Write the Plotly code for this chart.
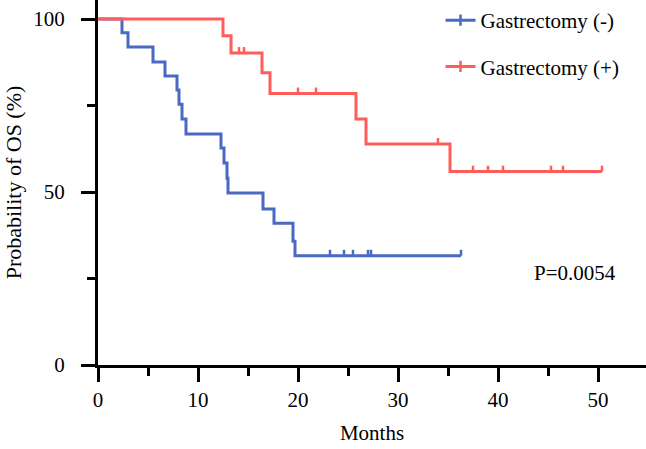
import plotly.graph_objects as go

# ---- data (months, survival %) ----
neg_times = [0, 2.4, 3.0, 5.5, 6.7, 7.9, 8.1, 8.4, 8.8, 12.3, 12.6, 12.9, 13.0, 16.5, 17.6, 19.5, 19.7, 36.3]
neg_surv = [100, 96.0, 91.9, 87.6, 83.5, 79.5, 75.4, 71.1, 66.8, 62.7, 58.4, 54.0, 49.7, 45.1, 41.0, 35.8, 31.6, 31.6]
neg_cens_t = [23.2, 24.6, 25.5, 27.0, 27.3, 36.3]
neg_cens_s = [31.6, 31.6, 31.6, 31.6, 31.6, 31.6]

pos_times = [0, 12.5, 13.3, 16.4, 17.2, 25.8, 26.8, 35.2, 50.4]
pos_surv = [100, 95.2, 90.2, 84.5, 78.5, 71.1, 63.9, 55.9, 55.9]
pos_cens_t = [14.1, 14.6, 20.0, 21.8, 34.0, 37.5, 39.0, 40.5, 45.3, 46.5, 50.4]
pos_cens_s = [90.2, 90.2, 78.5, 78.5, 63.9, 55.9, 55.9, 55.9, 55.9, 55.9, 55.9]

labels = ["Gastrectomy (-)", "Gastrectomy (+)"]
x_ticks = [0, 10, 20, 30, 40, 50]
y_ticks = [0, 50, 100]

BLUE = "#4A69C2"
RED = "#FF5C5C"
FONT = "'Liberation Serif', 'Times New Roman', Times, serif"
TICK_H = 1.7  # censor tick height (% units)

fig = go.Figure()

for t, s, ct, cs, col, name in [
    (neg_times, neg_surv, neg_cens_t, neg_cens_s, BLUE, labels[0]),
    (pos_times, pos_surv, pos_cens_t, pos_cens_s, RED, labels[1]),
]:
    fig.add_trace(go.Scatter(x=t, y=s, mode="lines", line=dict(color=col, width=3, shape="hv"),
                             showlegend=False, hoverinfo="skip"))
    fig.add_trace(go.Scatter(x=ct, y=cs, mode="markers", marker=dict(size=0.1, color=col, opacity=0),
                             error_y=dict(type="constant", value=TICK_H, valueminus=0, symmetric=False,
                                          width=0, thickness=2.5, color=col),
                             showlegend=False, hoverinfo="skip"))
    fig.add_trace(go.Scatter(x=[None], y=[None], mode="lines+markers", name=name,
                             line=dict(color=col, width=3),
                             marker=dict(symbol="line-ns", size=8, line=dict(width=2.5, color=col)),
                             legendgroup=name))

axis_common = dict(
    showline=True, linecolor="black", linewidth=3,
    ticks="outside", tickcolor="black", tickwidth=3, ticklen=14,
    showgrid=False, zeroline=False,
    tickfont=dict(family=FONT, size=21, color="black"),
)

fig.update_xaxes(range=[0, 54.8], tickvals=x_ticks,
                 minor=dict(tickvals=[5, 15, 25, 35, 45], ticks="outside", ticklen=8, tickwidth=3, tickcolor="black"),
                 title=dict(text="Months", font=dict(family=FONT, size=21, color="black"), standoff=15),
                 **axis_common)
fig.update_yaxes(range=[0, 105.5], tickvals=y_ticks, ticklabelstandoff=12,
                 minor=dict(tickvals=[25, 75], ticks="outside", ticklen=8, tickwidth=3, tickcolor="black"),
                 title=dict(text="Probability of OS (%)", font=dict(family=FONT, size=22, color="black"), standoff=6),
                 **axis_common)

fig.add_annotation(x=0.870, y=0.252, xref="paper", yref="paper", text="P=0.0054", showarrow=False,
                   font=dict(family=FONT, size=21, color="black"), xanchor="center", yanchor="middle")

fig.update_layout(
    width=646, height=449,
    margin=dict(l=98, r=0, t=0, b=84),
    plot_bgcolor="white", paper_bgcolor="white",
    legend=dict(x=0.625, y=1.0, xanchor="left", yanchor="top", bgcolor="rgba(0,0,0,0)",
                font=dict(family=FONT, size=21, color="black"), tracegroupgap=16, itemwidth=30),
)

fig.write_html("out.html", config={"displayModeBar": False},
               post_script="document.body.style.margin='0';document.body.style.overflow='hidden';")
